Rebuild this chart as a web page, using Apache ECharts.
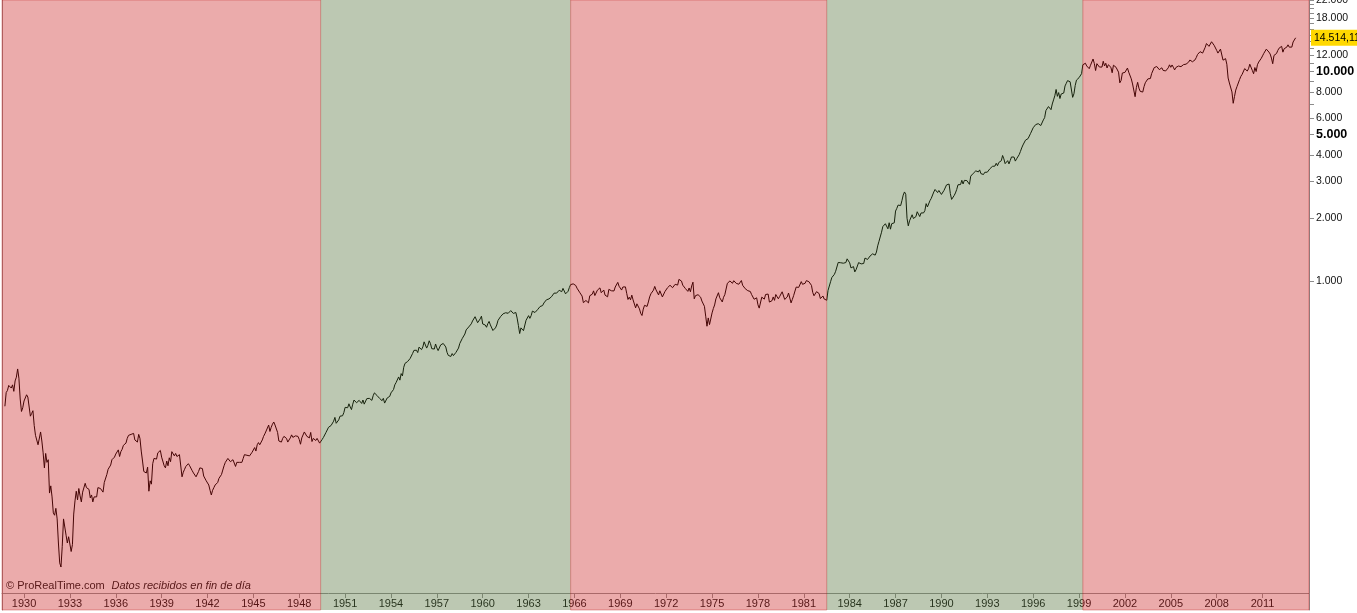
<!DOCTYPE html>
<html>
<head>
<meta charset="utf-8">
<script src="https://cdn.jsdelivr.net/npm/echarts@6/dist/echarts.min.js"></script>
<style>
html,body{margin:0;padding:0;background:#ffffff;}
#chart{width:1357px;height:613px;}
</style>
</head>
<body>
<div id="chart"></div>
<script>
// Monthly closes of the Dow Jones Industrial Average, starting October 1928
const startYear = 1928;
const startMonth = 10;

const closes1928to1949 = [
  252,293,300,
  317,317,308,319,297,333,347,380,343,273,238,248,
  267,272,286,279,275,226,233,240,204,183,183,165,
  167,190,172,151,128,150,136,140,97,105,93,78,
  76,82,73,56,45,43,54,73,72,61,56,60,
  60,51,55,77,89,99,90,102,94,88,98,100,
  108,103,101,101,92,95,88,93,92,93,103,104,
  102,101,98,109,111,119,126,127,132,140,142,144,
  149,152,156,145,153,157,164,166,168,177,183,180,
  185,187,187,174,175,170,185,177,154,138,123,121,
  121,129,99,111,107,134,142,139,141,151,150,155,
  144,147,131,128,138,131,143,137,153,152,146,150,
  145,146,148,149,116,122,126,130,132,134,131,131,
  124,121,122,116,116,123,128,127,127,117,115,111,
  109,106,100,95,100,103,106,107,109,114,115,119,
  125,131,136,135,142,143,137,138,140,138,130,136,
  137,136,138,136,142,148,146,147,147,146,147,152,
  153,160,154,165,169,165,163,174,181,186,192,193,
  205,191,200,207,212,205,201,189,172,169,170,177,
  181,178,177,170,170,178,184,179,178,182,180,181,
  175,166,178,181,190,189,181,181,178,189,171,177,
  179,173,177,174,168,168,175,179,182,189,191,200
];

const closes1950to1965 = [
  202,204,206,214,223,209,209,217,226,225,227,235,
  249,252,248,259,250,243,258,270,271,262,261,269,
  271,260,270,258,263,274,279,275,271,269,283,292,
  290,284,280,275,272,268,275,261,264,276,281,281,
  292,294,303,319,327,334,348,336,361,352,387,404,
  409,412,409,426,425,451,466,468,467,455,483,488,
  470,484,512,516,478,493,518,502,475,480,473,500,
  479,465,475,495,504,503,509,484,456,441,450,436,
  450,440,447,456,463,478,503,509,532,543,558,584,
  594,603,602,624,644,644,675,664,632,646,659,679,
  623,630,616,601,625,641,617,626,580,580,597,616,
  648,662,676,679,697,684,705,719,701,704,722,731,
  700,708,707,665,613,561,597,609,579,590,649,652,
  683,663,683,718,727,707,695,729,733,755,751,763,
  785,800,813,811,821,832,841,839,875,873,875,874,
  903,904,889,922,918,868,882,893,931,961,947,969
];

const closes1966to1982 = [
  983,952,924,933,884,870,847,788,774,807,791,786,
  850,839,865,897,852,860,904,901,927,879,875,905,
  856,841,840,912,899,898,883,896,936,952,985,944,
  946,905,936,950,937,873,816,837,813,856,812,800,
  744,778,786,736,700,684,734,765,761,756,794,839,
  869,879,904,942,907,891,858,898,887,839,831,890,
  902,928,941,954,961,929,925,964,953,956,1018,1020,
  999,955,951,921,901,892,926,888,947,987,822,851,
  856,860,847,837,802,802,757,679,608,666,619,616,
  704,739,768,821,832,879,832,835,794,836,860,852,
  975,973,1000,997,975,1003,985,974,991,965,947,1005,
  954,937,919,927,899,916,891,862,847,818,830,831,
  770,742,757,837,841,819,862,877,866,793,799,805,
  839,808,862,855,822,842,847,888,878,816,822,839,
  876,863,786,817,851,868,935,933,932,925,993,964,
  947,975,1004,998,992,977,953,882,850,853,889,875,
  871,824,823,848,820,812,809,901,896,992,1039,1047
];

const closes1983to1999 = [
  1076,1113,1130,1226,1200,1222,1199,1216,1233,1225,1276,1259,
  1221,1155,1165,1171,1105,1132,1115,1224,1207,1207,1189,1212,
  1287,1284,1267,1259,1316,1336,1348,1334,1329,1375,1472,1547,
  1571,1710,1819,1784,1877,1893,1775,1898,1768,1878,1914,1896,
  2158,2224,2305,2286,2292,2419,2572,2663,2596,1994,1834,1939,
  1958,2072,1988,2032,2031,2142,2129,2032,2113,2149,2115,2169,
  2342,2258,2294,2419,2480,2440,2661,2737,2693,2645,2706,2753,
  2591,2627,2707,2657,2877,2881,2905,2614,2453,2442,2560,2634,
  2736,2882,2914,2888,3028,2907,3025,3044,3017,3069,2895,3169,
  3224,3268,3236,3359,3397,3319,3394,3257,3272,3226,3305,3301,
  3310,3371,3436,3428,3528,3516,3540,3651,3555,3681,3684,3754,
  3978,3832,3636,3682,3758,3625,3765,3913,3843,3908,3739,3834,
  3844,4011,4158,4321,4465,4556,4709,4611,4789,4756,5075,5117,
  5395,5486,5588,5569,5643,5655,5529,5616,5882,6029,6522,6448,
  6813,6878,6584,7009,7331,7673,8223,7622,7945,7442,7823,7908,
  7907,8546,8800,9063,8900,8952,8883,7539,7843,8592,9117,9181,
  9359,9307,9786,10789,10560,10971,10655,10829,10337,10730,10878,11497
];

const closes2000to2013 = [
  10941,10128,10922,10734,10522,10448,10522,11215,10651,10971,10415,10788,
  10887,10495,9879,10735,10912,10502,10523,9950,8848,9075,9852,10022,
  9920,10106,10404,9946,9925,9243,8737,8664,7592,8397,8896,8342,
  8054,7891,7992,8480,8850,8985,9234,9416,9275,9801,9782,10454,
  10488,10584,10358,10226,10188,10435,10140,10174,10080,10027,10428,10783,
  10490,10766,10504,10193,10467,10275,10641,10482,10569,10440,10806,10718,
  10865,10993,11109,11367,11168,11150,11186,11381,11679,12081,12222,12463,
  12622,12268,12354,13063,13628,13409,13212,13358,13896,13930,13372,13265,
  12650,12266,12263,12820,12638,11350,11378,11544,10851,9325,8829,8776,
  8001,7063,7609,8168,8500,8447,9172,9496,9712,9713,10345,10428,
  10067,10325,10857,11009,10137,9774,10466,10015,10788,11118,11006,11578,
  11892,12226,12320,12811,12570,12414,12143,11614,10913,11955,12046,12218,
  12633,12952,13212,13214,12393,12880,13009,13091,13437,13096,13026,13104,
  13861,14054,14514.11
];

const yearTicks = [1930,1933,1936,1939,1942,1945,1948,1951,1954,1957,1960,1963,1966,1969,1972,1975,1978,1981,1984,1987,1990,1993,1996,1999,2002,2005,2008,2011];
const priceLabels = [1000,2000,3000,4000,5000,6000,8000,10000,12000,18000,22000];
const boldPriceLabels = [5000,10000];
const priceTicks = [1000,2000,3000,4000,5000,6000,7000,8000,9000,10000,11000,12000,13000,14000,15000,16000,17000,18000,19000,20000,21000,22000];

// secular regimes: bear (red) / bull (green)
const regimeBounds = [1949.4, 1965.75, 1982.5, 1999.25];
const regimeTypes = ['bear','bull','bear','bull','bear'];

// axis extents
const xMin = 1928.56, xMax = 2014.04;
const yMinValue = 26.8, yMaxValue = 22000;

const allCloses = [].concat(closes1928to1949, closes1950to1965, closes1966to1982, closes1983to1999, closes2000to2013);
const lastClose = allCloses[allCloses.length - 1];
const points = allCloses.map((v, i) => [startYear + (startMonth - 1 + i) / 12, Math.log10(v)]);

function thousands(n) {
  return String(n).replace(/\B(?=(\d{3})+(?!\d))/g, '.');
}
function fmtLast(v) {
  const ip = Math.floor(v);
  const dec = Math.round((v - ip) * 100);
  return thousands(ip) + ',' + String(dec).padStart(2, '0');
}

const edges = [xMin].concat(regimeBounds, [xMax]);
const bandData = regimeTypes.map((t, i) => [
  {
    xAxis: edges[i],
    itemStyle: t === 'bear'
      ? { color: 'rgba(198,15,15,0.35)', borderColor: 'rgba(190,20,20,0.35)', borderWidth: 1 }
      : { color: 'rgba(64,98,35,0.35)', borderWidth: 0 }
  },
  { xAxis: edges[i + 1] }
]);

const chart = echarts.init(document.getElementById('chart'), null, { renderer: 'canvas' });
const FONT = 'Arial, "Liberation Sans", sans-serif';

chart.setOption({
  animation: false,
  backgroundColor: '#ffffff',
  textStyle: { fontFamily: FONT },
  grid: { left: 2, right: 48, top: 0, bottom: 3, containLabel: false, outerBoundsMode: 'none' },
  xAxis: {
    type: 'value',
    min: xMin,
    max: xMax,
    offset: -17,
    axisLine: { show: true, onZero: false, lineStyle: { color: '#9a9a9a', width: 1 } },
    axisTick: { show: true, length: 5, customValues: yearTicks, lineStyle: { color: '#9a9a9a' } },
    axisLabel: {
      customValues: yearTicks,
      margin: 5,
      fontSize: 11,
      color: '#1a1a1a',
      fontFamily: FONT,
      formatter: v => String(Math.round(v))
    },
    splitLine: { show: false }
  },
  yAxis: [{
    type: 'value',
    position: 'right',
    min: Math.log10(yMinValue),
    max: Math.log10(yMaxValue),
    axisLine: { show: true, onZero: false, lineStyle: { color: '#8c8c8c', width: 1 } },
    axisTick: { show: true, length: 5, customValues: priceTicks.map(v => Math.log10(v)), lineStyle: { color: '#8c8c8c' } },
    axisLabel: {
      customValues: priceLabels.concat([lastClose]).map(v => Math.log10(v)),
      margin: 2,
      fontFamily: FONT,
      formatter: function (val) {
        const v = Math.pow(10, val);
        if (Math.abs(v - lastClose) < 0.5) return '{hl|' + fmtLast(lastClose) + '}';
        const r = Math.round(v);
        if (boldPriceLabels.indexOf(r) >= 0) return '{b|' + thousands(r) + '}';
        return '{n|' + thousands(r) + '}';
      },
      rich: {
        n: { fontSize: 10.5, color: '#111111', padding: [0, 0, 0, 5], fontFamily: FONT },
        b: { fontSize: 12.5, color: '#000000', fontWeight: 'bold', padding: [0, 0, 0, 5], fontFamily: FONT },
        hl: { fontSize: 10.5, color: '#000000', backgroundColor: '#FFD800', padding: [3, 8, 2, 3], fontFamily: FONT }
      }
    },
    splitLine: { show: false }
  }, {
    type: 'value',
    position: 'left',
    min: Math.log10(yMinValue),
    max: Math.log10(yMaxValue),
    axisLine: { show: true, onZero: false, lineStyle: { color: '#a0a0a0', width: 1 } },
    axisTick: { show: false },
    axisLabel: { show: false },
    splitLine: { show: false }
  }],
  graphic: [{
    type: 'text',
    left: 6,
    top: 580,
    z: 1,
    style: {
      text: '{a|© ProRealTime.com}  {b|Datos recibidos en fin de día}',
      rich: {
        a: { fontSize: 11, fill: '#222222', fontFamily: FONT },
        b: { fontSize: 11, fill: '#222222', fontStyle: 'italic', fontFamily: FONT }
      }
    }
  }],
  series: [{
    type: 'line',
    name: 'Dow Jones',
    data: points,
    yAxisIndex: 0,
    showSymbol: false,
    symbol: 'none',
    z: 2,
    lineStyle: { color: '#000000', width: 1 },
    silent: true
  }, {
    type: 'line',
    name: 'regimes',
    data: [],
    yAxisIndex: 0,
    z: 5,
    silent: true,
    markArea: { silent: true, z: 10, data: bandData }
  }]
});
</script>
</body>
</html>
